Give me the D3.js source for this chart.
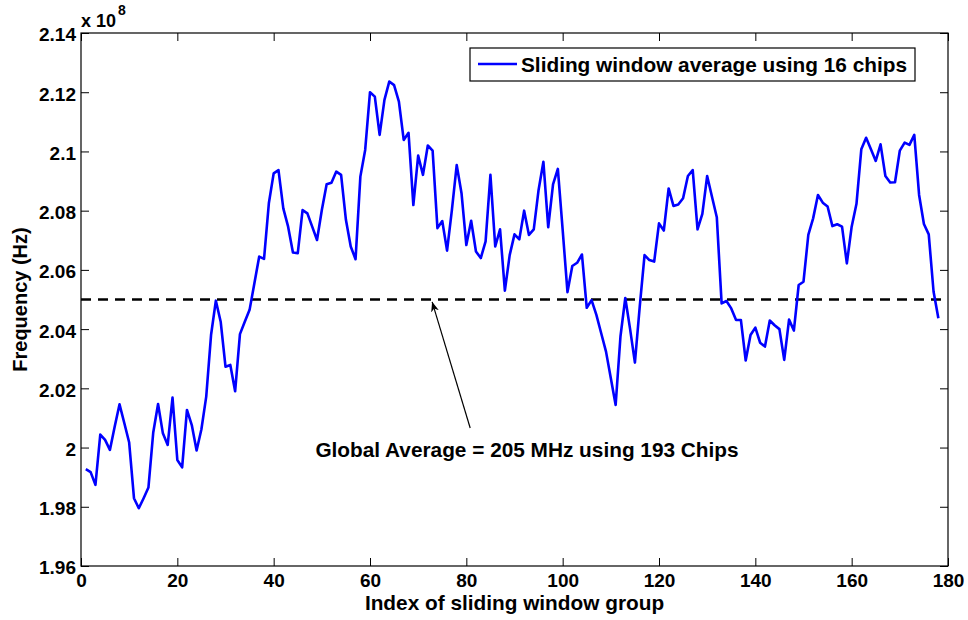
<!DOCTYPE html>
<html>
<head>
<meta charset="utf-8">
<script src="https://cdn.jsdelivr.net/npm/d3@7"></script>
<style>
  html, body { margin: 0; padding: 0; background: #fff; }
  svg { display: block; }
  text { font-family: "Liberation Sans", Arial, sans-serif; font-weight: bold; fill: #000; }
</style>
</head>
<body>
<svg id="chart" width="968" height="620"></svg>
<script>
// Sliding window average frequency (x 10^8 Hz), one value per window group 1..178
const windowIndex = d3.range(1, 179);
const avgFrequency = [
  1.9927, 1.9917, 1.9874, 2.0044, 2.0026, 1.9992, 2.0071, 2.0146, 2.0082, 2.0017,
  1.9829, 1.9795, 1.9829, 1.9865, 2.0051, 2.0147, 2.0048, 2.0009, 2.0169, 1.9958,
  1.9933, 2.0127, 2.0076, 1.9990, 2.0062, 2.0172, 2.0380, 2.0496, 2.0425, 2.0273,
  2.0279, 2.0190, 2.0383, 2.0425, 2.0465, 2.0555, 2.0645, 2.0637, 2.0825, 2.0926,
  2.0937, 2.0808, 2.0746, 2.0659, 2.0656, 2.0802, 2.0791, 2.0746, 2.0701, 2.0802,
  2.0889, 2.0894, 2.0932, 2.0921, 2.0769, 2.0679, 2.0636, 2.0915, 2.1005, 2.1200,
  2.1185, 2.1056, 2.1174, 2.1236, 2.1224, 2.1168, 2.1039, 2.1063, 2.0819, 2.0986,
  2.0921, 2.1020, 2.1003, 2.0741, 2.0765, 2.0665, 2.0802, 2.0954, 2.0859, 2.0684,
  2.0766, 2.0662, 2.0640, 2.0696, 2.0921, 2.0679, 2.0737, 2.0530, 2.0650, 2.0720,
  2.0703, 2.0800, 2.0718, 2.0737, 2.0870, 2.0965, 2.0744, 2.0889, 2.0941, 2.0735,
  2.0525, 2.0613, 2.0624, 2.0652, 2.0472, 2.0498, 2.0448, 2.0386, 2.0324, 2.0234,
  2.0144, 2.0375, 2.0505, 2.0400, 2.0287, 2.0476, 2.0650, 2.0633, 2.0628, 2.0757,
  2.0733, 2.0875, 2.0816, 2.0821, 2.0842, 2.0917, 2.0937, 2.0737, 2.0789, 2.0917,
  2.0847, 2.0778, 2.0487, 2.0495, 2.0470, 2.0431, 2.0431, 2.0294, 2.0380, 2.0405,
  2.0354, 2.0341, 2.0429, 2.0413, 2.0400, 2.0296, 2.0432, 2.0395, 2.0549, 2.0560,
  2.0718, 2.0774, 2.0853, 2.0827, 2.0814, 2.0748, 2.0754, 2.0746, 2.0622, 2.0746,
  2.0823, 2.1007, 2.1046, 2.1007, 2.0968, 2.1024, 2.0917, 2.0895, 2.0896, 2.1003,
  2.1030, 2.1022, 2.1056, 2.0853, 2.0755, 2.0720, 2.0527, 2.0437
];
const globalAverage = 2.05;
const xTicks = [0, 20, 40, 60, 80, 100, 120, 140, 160, 180];
const yTicks = [1.96, 1.98, 2, 2.02, 2.04, 2.06, 2.08, 2.1, 2.12, 2.14];
const seriesLabel = "Sliding window average using 16 chips";
const annotationLabel = "Global Average = 205 MHz using 193 Chips";

const margin = { left: 81, right: 20, top: 33, bottom: 54 };
const W = 968, H = 620;
const svg = d3.select("#chart");

const x = d3.scaleLinear().domain([0, 180]).range([margin.left, W - margin.right]);
const y = d3.scaleLinear().domain([1.96, 2.14]).range([H - margin.bottom, margin.top]);

const tickLen = 8;
const fmtY = d => String(+d.toFixed(2));

// Axes with inward ticks on all four sides
const axisBottom = d3.axisBottom(x).tickValues(xTicks).tickSize(-tickLen).tickPadding(6);
const axisTop = d3.axisTop(x).tickValues(xTicks).tickSize(-tickLen).tickFormat("");
const axisLeft = d3.axisLeft(y).tickValues(yTicks).tickSize(-tickLen).tickPadding(5).tickFormat(fmtY);
const axisRight = d3.axisRight(y).tickValues(yTicks).tickSize(-tickLen).tickFormat("");

function styleAxis(g) {
  g.select(".domain").remove();
  g.selectAll(".tick line").attr("stroke", "#000").attr("stroke-width", 1);
  g.selectAll(".tick text").style("font-size", "19px").style("font-weight", "bold")
    .style("font-family", "'Liberation Sans', Arial, sans-serif").attr("fill", "#000");
}

svg.append("g").attr("transform", `translate(0,${y.range()[0]})`).call(axisBottom).call(styleAxis)
  .selectAll(".tick text").attr("dy", "0.8em");
svg.append("g").attr("transform", `translate(0,${y.range()[1]})`).call(axisTop).call(styleAxis);
svg.append("g").attr("transform", `translate(${x.range()[0]},0)`).call(axisLeft).call(styleAxis)
  .selectAll(".tick text").attr("dy", "0.42em");
svg.append("g").attr("transform", `translate(${x.range()[1]},0)`).call(axisRight).call(styleAxis);

// Plot frame
svg.append("rect")
  .attr("x", x.range()[0]).attr("y", y.range()[1])
  .attr("width", x.range()[1] - x.range()[0]).attr("height", y.range()[0] - y.range()[1])
  .attr("fill", "none").attr("stroke", "#000").attr("stroke-width", 1.2);

// Global average reference line
svg.append("line")
  .attr("x1", x(0)).attr("x2", x(180))
  .attr("y1", y(globalAverage)).attr("y2", y(globalAverage))
  .attr("stroke", "#000").attr("stroke-width", 2.6).attr("stroke-dasharray", "10,7");

// Sliding window series
const line = d3.line().x((d, i) => x(windowIndex[i])).y(d => y(d));
svg.append("path").datum(avgFrequency)
  .attr("d", line).attr("fill", "none")
  .attr("stroke", "#0000ff").attr("stroke-width", 2.6).attr("stroke-linejoin", "round");

// Exponent label
const expo = svg.append("text").attr("x", x(0)).attr("y", 27).style("font-size", "18px");
expo.append("tspan").text("x 10");
expo.append("tspan").attr("dx", 2).attr("dy", -12).style("font-size", "14px").text("8");

// Axis titles
svg.append("text").attr("x", (x(0) + x(180)) / 2).attr("y", 610)
  .attr("text-anchor", "middle").style("font-size", "20.8px").text("Index of sliding window group");
svg.append("text").attr("transform", `translate(27,${(y(1.96) + y(2.14)) / 2}) rotate(-90)`)
  .attr("text-anchor", "middle").style("font-size", "20px").text("Frequency (Hz)");

// Legend
const legend = svg.append("g");
legend.append("rect").attr("x", 470).attr("y", 48).attr("width", 445).attr("height", 33)
  .attr("fill", "#fff").attr("stroke", "#000").attr("stroke-width", 1.2);
legend.append("line").attr("x1", 478).attr("x2", 517).attr("y1", 64).attr("y2", 64)
  .attr("stroke", "#0000ff").attr("stroke-width", 2.6);
legend.append("text").attr("x", 521).attr("y", 72).style("font-size", "20.8px").text(seriesLabel);

// Annotation: arrow pointing at the global average line
const tip = [72.9, 2.0492], tail = [80.8, 2.0066];
svg.append("defs").append("marker")
  .attr("id", "arrowhead").attr("viewBox", "0 0 10 10").attr("refX", 10).attr("refY", 5)
  .attr("markerWidth", 10).attr("markerHeight", 10).attr("markerUnits", "userSpaceOnUse")
  .attr("orient", "auto")
  .append("path").attr("d", "M0,1 L10,5 L0,9 L3,5 Z").attr("fill", "#000");
svg.append("line")
  .attr("x1", x(tail[0])).attr("y1", y(tail[1]))
  .attr("x2", x(tip[0])).attr("y2", y(tip[1]))
  .attr("stroke", "#000").attr("stroke-width", 1.2).attr("marker-end", "url(#arrowhead)");
svg.append("text").attr("x", x(92.6)).attr("y", y(1.9968))
  .attr("text-anchor", "middle").style("font-size", "20.8px").text(annotationLabel);
</script>
</body>
</html>
